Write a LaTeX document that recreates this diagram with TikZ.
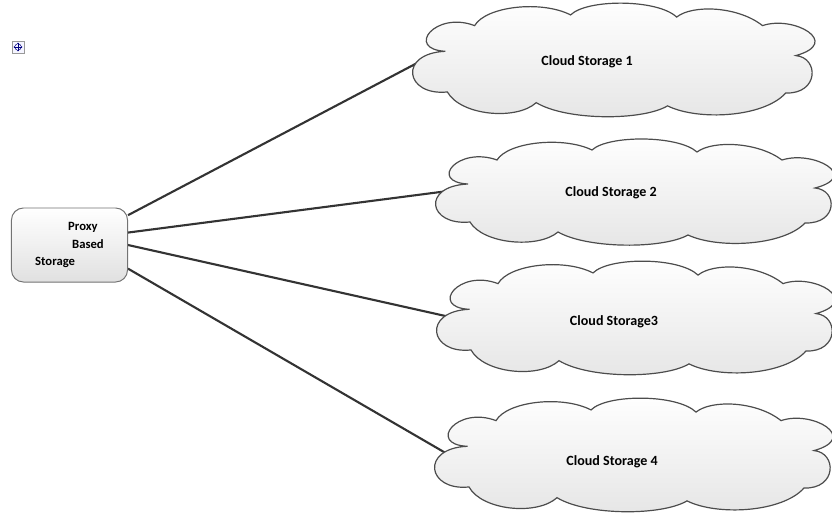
\documentclass[tikz,border=0pt]{standalone}
\usepackage{fontspec}
\setmainfont{Carlito}
\usepackage{xcolor}
\usetikzlibrary{backgrounds}

\tikzset{
  cloudline/.style={draw=black!70, line width=0.85pt, top color=white, bottom color=black!10},
  cloudtext/.style={font=\fontsize{10}{12}\selectfont\bfseries},
  link/.style={draw=black!80, line width=1.5pt},
  storecloud/.pic={
    \path[cloudline] (-165,-10)
      .. controls (-205,-12) and (-175,-48) .. (-136,-34)
      .. controls (-125,-52) and (-70,-58) .. (-41,-44)
      .. controls (-25,-59) and (45,-59) .. (64,-42)
      .. controls (80,-54) and (125,-52) .. (149,-34)
      .. controls (180,-44) and (228,-18) .. (182,-6)
      .. controls (205,-4) and (205,30) .. (172,29)
      .. controls (150,52) and (85,55) .. (55,41)
      .. controls (30,55) and (-45,55) .. (-75,38)
      .. controls (-95,55) and (-150,50) .. (-163,28)
      .. controls (-205,32) and (-212,-8) .. cycle;
    \coordinate (-w) at (-185,-3);
  }
}

\begin{document}
\begin{tikzpicture}[x=0.025cm,y=-0.025cm]
    \useasboundingbox (0,0) rectangle (832,513);
    % move handle
    \node[draw=black!40, fill=blue!4, minimum size=0.3cm, inner sep=0] (h) at (18,47) {};
    \draw[blue!50!black, <->, line width=0.4pt] ([xshift=-0.11cm]h.center) -- ([xshift=0.11cm]h.center);
    \draw[blue!50!black, <->, line width=0.4pt] ([yshift=-0.11cm]h.center) -- ([yshift=0.11cm]h.center);

    \node[draw=black!55, line width=0.7pt, rounded corners=0.3cm, top color=white, bottom color=black!12,
          minimum width=2.9cm, minimum height=1.85cm, align=left,
          font=\fontsize{9}{12.5}\selectfont\bfseries] (p) at (69.5,245)
          {\hspace*{0.825cm}Proxy\\\hspace*{0.925cm}Based\\Storage};

    \pic[xscale=1.01, yscale=1.07] (c1) at (612,62) {storecloud};
    \pic (c2) at (633,194) {storecloud};
    \pic[yscale=1.07] (c3) at (634,320) {storecloud};
    \pic[yscale=1.07] (c4) at (632,457) {storecloud};

    \node[cloudtext] (t1) at (587,62) {Cloud Storage 1};
    \node[cloudtext] (t2) at (611,193) {Cloud Storage 2};
    \node[cloudtext] (t3) at (614,322) {Cloud Storage3};
    \node[cloudtext] (t4) at (612,462) {Cloud Storage 4};

    % links go under the clouds
    \begin{scope}[on background layer]
    \draw[link] (p.27) -- (c1-w);
    \draw[link] (p.12) -- (c2-w);
    \draw[link] (p.east) -- (c3-w);
    \draw[link] (p.-22) -- (c4-w);
    \end{scope}
\end{tikzpicture}
\end{document}
